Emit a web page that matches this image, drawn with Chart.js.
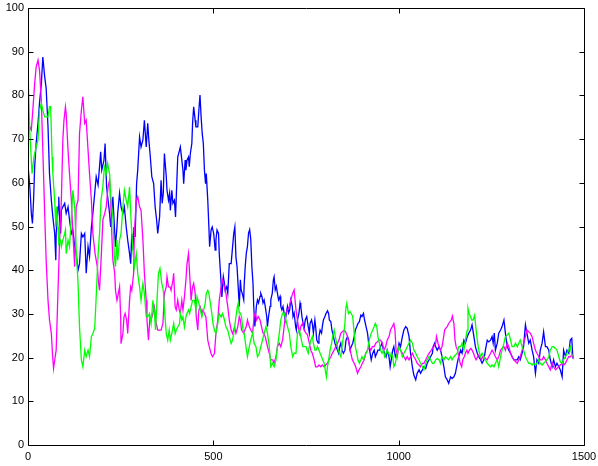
<!DOCTYPE html>
<html>
<head>
<meta charset="utf-8">
<script src="https://cdn.jsdelivr.net/npm/chart.js@4"></script>
<style>
  html, body { margin: 0; padding: 0; background: #fff; }
  #wrap { width: 598px; height: 466px; position: relative; }
</style>
</head>
<body>
<div id="wrap"><canvas id="c" width="598" height="466"></canvas></div>
<script>
// Tick positions for both axes
const xTicks = [0, 500, 1000, 1500];
const yTicks = [0, 10, 20, 30, 40, 50, 60, 70, 80, 90, 100];

// Three traces, each as [step, value] pairs
const blueSeries = [[0,64],[5,59],[9,53],[12,50.7],[15,56],[18,63.7],[22,69],[27,73.6],[31,78.2],[36,82.7],[40,88.8],[45,84.3],[49,81.6],[54,72.8],[58,62.1],[63,56],[67,52.2],[72,48.4],[75,42.3],[76,48.4],[81,54.5],[83,56.8],[85,52.2],[88,48.4],[90,53.7],[94,54.5],[99,55.3],[103,53],[108,54.5],[112,51.5],[117,48.4],[121,49.2],[126,45.4],[130,43.8],[135,40],[139,41.5],[144,48.4],[148,47.6],[153,48.4],[157,39.3],[162,45.4],[166,43.1],[171,49.9],[175,53],[180,57.6],[184,61.4],[189,59.5],[193,63.7],[196,67.1],[199,62.9],[205,65.2],[208,69],[212,59.1],[216,56],[220,53],[223,49.9],[226,53],[229,56.8],[234,48.4],[236,45.4],[240,49.9],[242,53],[247,57.6],[251,54.5],[256,53],[260,54.5],[265,49.9],[269,46.9],[274,43.8],[277,41.5],[280,48.4],[283,44.6],[286,49.9],[289,47.6],[293,59.8],[296,62.9],[301,70.5],[305,68.2],[310,69.8],[314,74.3],[319,68.2],[323,73.6],[326,69.8],[330,65.9],[334,61.4],[339,59.8],[343,54.5],[347,51.5],[350,48.4],[355,52.2],[359,60.6],[362,55.3],[365,57.6],[368,66.7],[373,61.5],[375,58.3],[379,56],[382,57.6],[384,53.7],[388,58.3],[391,55.3],[395,56],[398,52.2],[400,56.8],[404,65.9],[409,67.5],[411,68.2],[415,65.2],[418,62.9],[420,59.8],[424,65.2],[426,62.9],[429,65.2],[433,65.9],[435,63.7],[438,66.7],[442,69],[444,73.6],[447,77.4],[451,74.3],[453,72.8],[458,72.8],[461,76.6],[464,80.1],[467,75.1],[470,71.3],[473,69],[476,62.9],[479,59.8],[481,62.1],[485,56],[488,49.9],[490,45.4],[494,49.2],[497,49.9],[501,48.4],[505,44.6],[507,46.9],[510,49.2],[514,48.4],[516,43.8],[521,37],[523,33.9],[527,38.5],[530,37],[532,35.4],[536,36.2],[539,34.7],[543,41.5],[548,41.5],[552,45.4],[555,48.4],[558,49.9],[561,43],[564,40.8],[567,36.3],[570,31.7],[573,37.8],[575,35.5],[578,34.7],[582,33.2],[583,36.3],[586,40.8],[589,43.9],[592,45.4],[595,48.5],[598,49.3],[601,47],[604,40.8],[607,37],[609,31.7],[612,27.1],[616,31.7],[619,33.2],[622,32.5],[626,34],[628,34.7],[631,34],[634,32.5],[637,33.2],[640,31.7],[644,29.4],[646,27.1],[649,29.4],[653,31.7],[655,33.2],[659,34.7],[662,37.8],[664,38.5],[667,35.5],[670,36.3],[673,34.7],[676,33.2],[680,34],[682,31.7],[685,30.9],[688,31.7],[691,30.2],[694,28.6],[697,30.2],[700,31.7],[703,30.2],[706,30.9],[709,33.2],[713,31.7],[715,29.4],[718,30.2],[722,27.1],[724,26.3],[727,28.6],[731,30.2],[734,32.5],[736,31.7],[739,29.4],[742,27.9],[745,26.7],[748,28.6],[752,29.4],[756,27.1],[759,25.6],[761,27.8],[765,28.6],[767,27.8],[770,25.6],[774,28.6],[776,27.1],[779,24],[783,23.3],[785,24.8],[788,26.3],[792,25.6],[794,27.1],[797,28.6],[801,29.4],[804,30.1],[808,30.7],[811,30.1],[813,28.6],[817,28.2],[820,26.3],[824,24.8],[828,23.3],[831,22.5],[835,21.7],[838,21],[841,22.5],[844,23.3],[847,21.7],[851,21],[855,21.7],[858,24],[862,24.8],[865,24],[869,21.7],[872,22.5],[876,23.3],[880,24.8],[883,26.3],[887,27.1],[890,27.8],[894,28.2],[898,29.7],[901,29.4],[905,30.1],[908,28.6],[912,27.1],[916,25.6],[919,23.3],[923,21],[926,19.5],[930,21],[934,21.7],[937,20.2],[941,21],[944,21.7],[948,21.7],[951,22.5],[955,23.3],[959,21.7],[962,21],[966,20.2],[969,21.7],[974,20.2],[977,17.9],[980,19.5],[984,21.7],[987,22.5],[991,20.2],[995,21],[998,21.7],[1001,23.3],[1005,22.5],[1010,24.8],[1014,26.3],[1019,27.1],[1023,26.7],[1028,24.8],[1032,21],[1037,17.9],[1041,16],[1046,14.9],[1050,16.4],[1055,17.2],[1059,16.4],[1064,17.2],[1068,17.9],[1073,17.5],[1077,18.7],[1082,19.5],[1086,20.2],[1091,21],[1093,22.5],[1097,23.3],[1100,22.5],[1104,21.7],[1109,22.5],[1113,21.7],[1117,20.2],[1122,17.9],[1126,15.6],[1131,14.9],[1135,14.1],[1140,15.6],[1144,15.2],[1149,15.6],[1153,16.4],[1158,18.7],[1162,20.2],[1167,21.7],[1171,21],[1176,24],[1180,23.3],[1185,24.8],[1189,25.6],[1194,26.3],[1198,27.5],[1203,24.8],[1207,22.5],[1212,21],[1216,20.2],[1221,19.5],[1225,18.7],[1230,19.5],[1234,21.7],[1239,24],[1243,23.6],[1248,24],[1252,24.8],[1255,23.3],[1258,25.6],[1261,21.7],[1266,23.3],[1270,25.6],[1275,26.3],[1279,27.1],[1284,28.6],[1286,27.1],[1289,24.8],[1293,22.5],[1297,21.7],[1302,21],[1306,20.2],[1311,19.5],[1315,19.5],[1320,19.5],[1324,20.2],[1328,19.5],[1333,21],[1337,22.5],[1342,27.5],[1346,25.6],[1351,23.3],[1355,24],[1360,21.7],[1364,20.2],[1369,16.4],[1373,19.5],[1378,18.7],[1382,21.7],[1387,23.3],[1391,25.9],[1396,22.5],[1400,22.5],[1405,21.7],[1409,19.5],[1414,17.9],[1418,19.5],[1423,17.9],[1427,18.7],[1432,17.9],[1436,17.2],[1441,15.6],[1445,21.7],[1450,20.2],[1454,21.7],[1459,21],[1463,24],[1467,24.4],[1470,19.8]];

const greenSeries = [[0,85.4],[5,71.3],[11,62.1],[16,65.9],[22,68.2],[27,69.8],[31,76.6],[36,78.2],[40,76.6],[45,75.1],[49,75.1],[54,75.1],[58,77.4],[61,77.4],[65,65.9],[67,62.1],[72,56],[75,49.9],[77,54.5],[81,49.9],[83,46.1],[88,46.9],[90,45.4],[94,46.9],[99,48.4],[101,49.2],[103,43.8],[108,46.9],[112,45.4],[117,52.2],[121,58.3],[126,54.5],[130,44.6],[135,37],[139,27],[144,19.4],[148,17.9],[153,21.7],[157,20.2],[162,21.7],[166,20.2],[171,24.8],[175,25.5],[180,26.7],[184,34],[189,43.5],[193,48.4],[197,56],[202,59.1],[206,63.7],[211,62.1],[215,64.4],[220,62.1],[224,56],[229,52.2],[233,43.1],[236,40.8],[240,46.9],[242,42.3],[247,46.9],[251,48.4],[256,54.5],[260,58.3],[265,56],[269,54.5],[274,59.1],[278,51.5],[283,44.6],[287,40.8],[292,43.8],[296,39.3],[301,36.2],[305,33.1],[310,37],[314,34.7],[319,29.3],[323,29.3],[328,30.1],[332,27.8],[337,33.1],[341,30.1],[344,26.3],[348,33.1],[352,39.3],[356,40.4],[361,37],[365,35.4],[369,30],[373,25.5],[377,24],[381,26.3],[384,24],[388,25.5],[393,27.8],[397,25.5],[400,26.3],[404,27],[409,27.8],[411,30.1],[415,28.6],[418,29.3],[422,27],[426,29.3],[429,30.1],[433,30.9],[436,30.1],[440,31.6],[444,33.1],[449,33.1],[453,30.9],[456,33.9],[461,32.4],[465,30.9],[469,29.3],[474,30.9],[478,32.4],[481,34.7],[485,35.4],[488,34.7],[492,32.4],[496,30.1],[499,27.8],[503,26.3],[507,25.5],[512,27.8],[516,30.1],[521,29.3],[525,30.1],[530,28.6],[534,27],[539,26.3],[543,24.8],[548,23.2],[552,24],[557,26.5],[561,29.4],[565,31.7],[567,32.5],[570,30.2],[573,30.2],[576,29.4],[580,26.3],[583,25.6],[588,22.5],[592,20.2],[597,22.5],[601,24.1],[606,25.6],[610,23.3],[615,22.5],[619,20.2],[624,21],[628,22.5],[633,24.1],[637,25.6],[642,27.1],[646,25.6],[651,22.5],[655,17.9],[660,18.7],[664,17.9],[669,19.5],[673,22.5],[678,25.6],[682,28.6],[687,30.2],[691,30.2],[696,28.6],[700,27.1],[705,25.6],[709,22.5],[714,20.2],[718,21],[723,21],[727,25.6],[732,26.3],[736,24.8],[741,22.5],[745,22.5],[750,22.5],[753,21.7],[756,21],[759,22.5],[763,24],[767,24.8],[770,23.3],[774,21.7],[777,21.7],[781,22.5],[785,21.7],[788,21],[792,20.2],[795,19.5],[799,18.7],[802,17.2],[805,15.6],[808,17.9],[811,19.5],[815,21.7],[819,23.3],[822,24.8],[826,26.3],[829,24.8],[833,23.3],[837,21.7],[840,21],[844,20.2],[847,22.5],[851,24.8],[855,27.8],[857,30.9],[860,32.4],[863,30.9],[865,30.1],[869,30.5],[872,30.1],[876,29.4],[880,25.6],[883,22.5],[887,21],[890,19.5],[894,18.7],[898,19.5],[901,20.2],[905,19.5],[908,20.2],[912,21],[916,21.7],[919,23.3],[923,24.8],[926,25.6],[930,26.3],[934,27.1],[937,27.8],[941,27.1],[944,24.8],[948,23.3],[951,21.7],[955,21],[959,21.7],[962,20.2],[966,21],[969,21.7],[973,21],[977,20.2],[980,21],[984,20.2],[987,17.9],[991,18.7],[996,21],[1001,22.5],[1005,21.7],[1010,20.2],[1014,21],[1019,21.7],[1023,22.5],[1028,23.3],[1032,24],[1037,23.3],[1041,21.7],[1046,21],[1050,20.2],[1055,19.5],[1059,18.7],[1064,17.9],[1068,17.2],[1073,18.7],[1077,19.5],[1082,20.2],[1086,19.5],[1091,18.7],[1095,18.7],[1100,19.5],[1104,19.8],[1109,19.5],[1113,18.7],[1117,20.2],[1122,19.5],[1126,20.2],[1131,19.8],[1135,19.5],[1140,20.2],[1144,19.5],[1149,20.2],[1153,20.6],[1158,21],[1162,22.5],[1167,22.5],[1171,23.3],[1176,21.7],[1180,24],[1185,26.3],[1187,31.3],[1190,30.1],[1194,29.4],[1197,28.6],[1201,28.6],[1205,29.7],[1208,27.1],[1212,24],[1216,21.7],[1221,20.2],[1225,21],[1230,20.2],[1234,19.5],[1239,18.7],[1243,18.3],[1248,17.9],[1252,18.3],[1257,17.9],[1261,18.7],[1266,19.5],[1270,17.9],[1275,20.2],[1279,21.7],[1284,23.3],[1288,24.8],[1293,25.2],[1297,25.6],[1302,24],[1306,22.5],[1311,22.5],[1315,23.3],[1320,22.5],[1324,23.3],[1328,24],[1333,22.5],[1337,21.7],[1342,20.2],[1346,19.5],[1351,18.7],[1355,18.7],[1360,18.3],[1364,18.7],[1369,18.3],[1373,18.7],[1378,19.5],[1382,18.7],[1387,18.3],[1391,18.7],[1396,19.1],[1400,19.5],[1405,20.2],[1409,21.7],[1414,22.5],[1418,22.5],[1423,22.1],[1427,21.7],[1432,20.2],[1436,19.1],[1441,18.7],[1445,19.5],[1450,20.2],[1454,21],[1459,21.7],[1463,22.5],[1468,20.2],[1470,20.2]];

const magentaSeries = [[0,71.3],[5,72.8],[9,72.1],[13,76.6],[18,82.7],[22,86.5],[27,88.1],[31,85.8],[36,78.9],[40,67.5],[45,53],[49,42.3],[54,33.1],[58,28.6],[63,25.5],[66,20.9],[69,17.5],[72,19.4],[76,21.7],[81,35.4],[85,46.1],[90,56],[94,69.8],[97,74.3],[101,77.4],[103,75.9],[108,67.5],[112,62.1],[117,56],[121,48.4],[126,40.8],[130,54.5],[135,56],[139,71.3],[144,76.6],[148,79.7],[153,73.6],[157,74.3],[162,67.5],[166,62.1],[171,56],[175,48.4],[181,43.8],[187,40.8],[190,37.4],[193,35.4],[198,43.8],[202,51.5],[207,53],[211,54.5],[216,59.1],[220,60.6],[223,56],[226,48.4],[229,42.3],[234,39.3],[236,35.4],[240,33.1],[242,33.9],[247,36.2],[250,29.3],[251,23.2],[256,25.5],[259,29.3],[262,30.1],[266,28.6],[269,25.5],[274,33.1],[277,36.2],[280,35.4],[285,39.3],[287,48.4],[292,56],[296,56.8],[301,54.5],[305,53.7],[310,46.9],[314,39.3],[319,33.1],[321,28.6],[325,24],[329,29.3],[332,28.6],[337,30.1],[341,31.6],[346,27.8],[350,26.3],[355,26.3],[359,26.3],[364,27.8],[368,34.7],[373,36.2],[375,38.5],[379,36.2],[383,36.2],[386,35.4],[391,37.7],[393,39.3],[397,31.6],[400,30.9],[404,33.1],[408,30.9],[411,30.1],[415,33.1],[418,30.9],[422,33.9],[426,37.7],[429,41.5],[433,43.8],[436,39.3],[440,33.1],[444,36.2],[447,37],[451,34.7],[454,29.3],[458,26.3],[461,30.9],[465,31.6],[469,30.1],[472,30.9],[476,30.1],[480,29.3],[485,24],[489,22.5],[494,20.9],[498,20.2],[503,20.9],[507,25.5],[512,28.6],[516,33.1],[521,36.2],[525,37.7],[530,36.2],[534,34.7],[539,31.6],[543,28.6],[548,26.3],[552,25.5],[557,27],[561,25.6],[566,27.1],[570,29.4],[573,28.6],[576,26.3],[582,25.6],[585,26.3],[589,27.1],[592,28.6],[597,27.1],[601,26.3],[606,25.6],[610,29.4],[613,30.2],[617,28.6],[621,29.4],[626,28.6],[630,27.1],[634,25.6],[637,25.6],[642,24.1],[646,22.5],[651,21],[655,19.5],[660,19.5],[664,18.7],[669,20.2],[673,22.5],[678,23.3],[682,22.5],[687,24.1],[691,27.1],[696,30.2],[700,30.9],[705,31.7],[709,33.2],[714,34.7],[718,35.5],[723,30.9],[727,28.6],[732,25.6],[736,27.1],[741,27.9],[745,26.3],[750,25.6],[754,25.2],[759,23.3],[763,21.7],[767,21],[772,19.5],[776,17.9],[781,17.9],[785,18.3],[790,17.9],[794,18.3],[799,17.9],[803,18.3],[808,18.7],[812,19.5],[817,20.2],[821,21],[826,21.7],[830,22.5],[835,23.3],[839,24],[844,25.6],[848,25.9],[853,26.3],[857,25.9],[862,24.8],[866,23.3],[871,21],[875,19.5],[880,18.7],[884,17.9],[889,16.4],[893,17.2],[898,17.9],[902,18.7],[907,19.5],[911,21],[916,21.7],[920,22.5],[925,21.7],[929,22.5],[934,22.5],[938,23.3],[943,23.6],[947,24],[951,24],[956,23.3],[960,21.7],[965,22.5],[969,24],[974,24.8],[978,26.3],[983,27.1],[987,27.8],[990,26.3],[993,21.7],[996,20.2],[1001,22.5],[1005,21.7],[1010,21],[1014,20.2],[1019,19.5],[1023,20.2],[1028,19.5],[1032,20.2],[1037,21],[1041,20.2],[1046,19.5],[1050,18.7],[1055,18.3],[1059,17.9],[1064,18.7],[1068,18.7],[1073,19.5],[1077,20.2],[1082,21],[1086,21.4],[1091,22.1],[1095,22.5],[1100,23.3],[1102,24.8],[1106,23.3],[1109,22.5],[1113,21.7],[1117,22.5],[1120,24],[1124,26.3],[1127,26.7],[1131,27.1],[1135,27.8],[1138,28.2],[1142,28.6],[1145,29.5],[1149,27.8],[1152,24],[1155,22.5],[1159,21.7],[1162,20.2],[1166,18.7],[1170,17.9],[1173,19.5],[1177,20.2],[1180,21],[1184,21.7],[1187,21],[1191,21.7],[1195,22.1],[1198,21.7],[1202,21],[1205,20.2],[1209,19.5],[1213,20.2],[1216,20.6],[1220,20.2],[1223,19.5],[1227,20.2],[1230,20.2],[1234,19.8],[1239,19.5],[1243,20.2],[1248,21],[1252,21.7],[1257,21],[1261,20.2],[1266,19.5],[1270,20.2],[1275,21.7],[1279,22.1],[1284,22.5],[1288,21.7],[1293,23.3],[1297,22.5],[1302,21],[1306,20.2],[1311,19.5],[1315,19.1],[1320,18.7],[1324,19.5],[1328,20.2],[1333,21.7],[1337,23.3],[1342,24.8],[1346,26.3],[1351,25.9],[1355,25.6],[1360,24.8],[1364,23.3],[1369,21.7],[1373,21],[1378,20.2],[1382,19.5],[1387,19.5],[1391,20.2],[1396,19.5],[1400,18.7],[1405,17.9],[1409,17.2],[1414,18.7],[1418,17.9],[1423,17.2],[1427,17.5],[1432,17.9],[1436,18.3],[1441,18.7],[1445,18.3],[1450,18.7],[1454,19.5],[1459,20.2],[1463,20.2],[1468,20.6],[1470,20.2]];

const FONT = { family: '"Liberation Sans", Arial, Helvetica, sans-serif', size: 11 };

// Box around the axes with short inward tick marks on all four sides
const boxTicks = {
  id: 'boxTicks',
  afterDatasetsDraw(chart) {
    const { ctx, chartArea: a, scales: { x, y } } = chart;
    const L = Math.round(a.left) + 0.5, R = Math.round(a.right) + 0.5;
    const T = Math.round(a.top) + 0.5, B = Math.round(a.bottom) + 0.5;
    const len = 5;
    ctx.save();
    ctx.strokeStyle = '#000';
    ctx.lineWidth = 1;
    ctx.beginPath();
    ctx.rect(L, T, R - L, B - T);
    xTicks.forEach(v => {
      const px = Math.round(x.getPixelForValue(v)) + 0.5;
      ctx.moveTo(px, B); ctx.lineTo(px, B - len);
      ctx.moveTo(px, T); ctx.lineTo(px, T + len);
    });
    yTicks.forEach(v => {
      const py = Math.round(y.getPixelForValue(v)) + 0.5;
      ctx.moveTo(L, py); ctx.lineTo(L + len, py);
      ctx.moveTo(R, py); ctx.lineTo(R - len, py);
    });
    ctx.stroke();
    ctx.restore();
  }
};

const line = (data, color) => ({
  data, borderColor: color, backgroundColor: color,
  borderWidth: 1.3, pointRadius: 0, tension: 0, fill: false
});

new Chart(document.getElementById('c'), {
  type: 'line',
  data: {
    datasets: [
      line(greenSeries, '#00ff00'),
      line(magentaSeries, '#ff00ff'),
      line(blueSeries, '#0000ff')
    ]
  },
  options: {
    responsive: false,
    animation: false,
    devicePixelRatio: 1,
    layout: { padding: { top: 8, right: 14, left: 0, bottom: 0 } },
    plugins: { legend: { display: false }, tooltip: { enabled: false } },
    scales: {
      x: {
        type: 'linear', min: 0, max: 1500,
        afterBuildTicks: s => { s.ticks = xTicks.map(v => ({ value: v })); },
        afterFit: s => { s.height = 21; s.paddingLeft = 0; s.paddingRight = 0; },
        grid: { display: false, drawTicks: false },
        border: { display: false },
        ticks: { color: '#000', font: FONT, padding: 5, maxRotation: 0, autoSkip: false,
                 callback: v => String(v) }
      },
      y: {
        type: 'linear', min: 0, max: 100,
        afterBuildTicks: s => { s.ticks = yTicks.map(v => ({ value: v })); },
        afterFit: s => { s.width = 28; s.paddingTop = 0; s.paddingBottom = 0; },
        grid: { display: false, drawTicks: false },
        border: { display: false },
        ticks: { color: '#000', font: FONT, padding: 4, autoSkip: false,
                 callback: v => String(v) }
      }
    }
  },
  plugins: [boxTicks]
});
</script>
</body>
</html>
